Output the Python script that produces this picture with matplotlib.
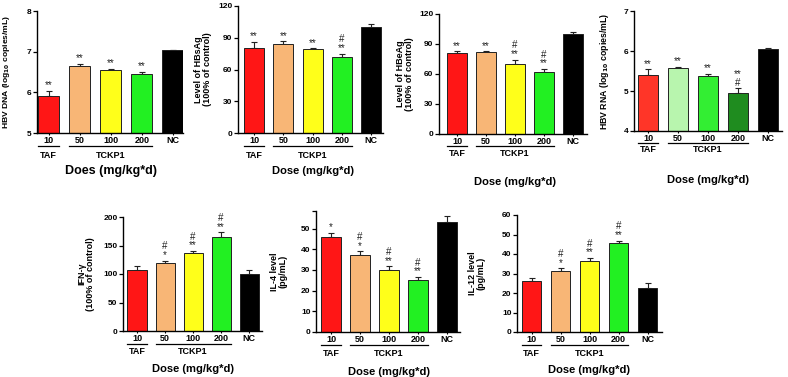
import matplotlib
matplotlib.use("Agg")
import matplotlib.pyplot as plt
import matplotlib.transforms as mtransforms

plt.rcParams['font.family'] = ['Liberation Sans', 'DejaVu Sans']
plt.rcParams['font.weight'] = 'bold'

W, H = 788, 377

doses = ['10', '50', '100', '200', 'NC']

# top row
dna_vals = [5.92, 6.65, 6.56, 6.46, 7.03]
dna_err = [0.12, 0.05, 0.02, 0.05, 0.02]
dna_marks = ['**', '**', '**', '**', '']

hbsag_vals = [80, 84, 79, 72, 100]
hbsag_err = [6, 2.5, 1, 3, 3]
hbsag_marks = ['**', '**', '**', '#\n**', '']

hbeag_vals = [81, 82, 70.5, 62, 100]
hbeag_err = [1.8, 0.6, 4, 3, 2]
hbeag_marks = ['**', '**', '#\n**', '#\n**', '']

rna_vals = [5.41, 5.58, 5.37, 4.95, 6.04]
rna_err = [0.13, 0.02, 0.06, 0.12, 0.03]
rna_marks = ['**', '**', '**', '**\n#', '']

# bottom row
ifn_vals = [107, 119, 136, 165, 100]
ifn_err = [7, 4.5, 4.5, 8, 7]
ifn_marks = ['', '#\n*', '#\n**', '#\n**', '']

il4_vals = [46, 37, 30, 25.3, 53.3]
il4_err = [2, 2, 1.8, 1.3, 2.6]
il4_marks = ['*', '#\n*', '#\n**', '#\n**', '']

il12_vals = [26, 31.2, 36.5, 45.5, 22.8]
il12_err = [1.8, 1.5, 1.5, 1.3, 2.2]
il12_marks = ['', '#\n*', '#\n**', '#\n**', '']

main_colors = ['#ff1616', '#f8b676', '#ffff1a', '#22f022', '#000000']
rna_colors = ['#ff3528', '#b8f5ae', '#33ee33', '#1f8c1f', '#000000']

fig = plt.figure(figsize=(W / 100, H / 100), dpi=100)


def panel(box, xlim, ylim, yticks, vals, errs, colors, marks, ylabel, ylab_x,
          lines_y, xlabel, xlab_y, xlab_size=8, ytop_tick=None, ylab_size=6.5):
    l, t, r, b = box
    hpx = b - t
    ax = fig.add_axes([l / W, 1 - b / H, (r - l) / W, hpx / H])
    x = range(len(vals))
    bw = 0.68
    ax.bar(x, vals, width=bw, color=colors, edgecolor='#222222', linewidth=0.7, zorder=2)
    ax.errorbar(x, vals, yerr=[[0] * len(errs), errs], fmt='none', ecolor='#222222',
                elinewidth=0.8, capsize=2.5, capthick=0.8, zorder=1)
    span = ylim[1] - ylim[0]
    for i, m in enumerate(marks):
        if m:
            ax.text(i, vals[i] + errs[i] + span * 0.005, m, ha='center', va='bottom',
                    fontsize=7, fontweight='normal', linespacing=0.85, color='#222222')
    ax.set_xlim(*xlim)
    ax.set_ylim(*ylim)
    ticks = list(yticks)
    labels = [str(v) for v in yticks]
    if ytop_tick is not None:
        ticks.append(ytop_tick)
        labels.append('')
    ax.set_yticks(ticks)
    ax.set_yticklabels(labels, fontsize=6, fontweight='bold')
    ax.set_xticks(list(x))
    ax.set_xticklabels(doses, fontsize=6.5, fontweight='bold')
    ax.tick_params(axis='x', length=1.5, width=0.8, pad=0.6)
    ax.tick_params(axis='y', length=3, width=0.9, pad=1)
    for s in ['top', 'right']:
        ax.spines[s].set_visible(False)
    for s in ['left', 'bottom']:
        ax.spines[s].set_linewidth(1.0)
    ax.set_ylabel(ylabel, fontsize=ylab_size, fontweight='bold', linespacing=1.0)
    ax.yaxis.set_label_coords((ylab_x - l) / (r - l), 0.5)

    # group lines and labels under the axis
    tr = mtransforms.blended_transform_factory(ax.transData, ax.transAxes)
    ly, gy = lines_y
    fy = -(ly - b) / hpx
    fg = -(gy - b) / hpx
    ax.plot([-bw / 2, bw / 2], [fy, fy], color='black', lw=0.9, transform=tr, clip_on=False)
    ax.plot([1 - bw / 2, 3 + bw / 2], [fy, fy], color='black', lw=0.9, transform=tr, clip_on=False)
    ax.text(0, fg, 'TAF', ha='center', va='center', fontsize=6.5, transform=tr)
    ax.text(2, fg, 'TCKP1', ha='center', va='center', fontsize=6.5, transform=tr)
    ax.text(2, -(xlab_y - b) / hpx, xlabel, ha='center', va='center',
            fontsize=xlab_size, transform=tr)
    return ax


panel((37, 11, 183, 133), (-0.38, 4.33), (5, 8), [5, 6, 7, 8],
      dna_vals, dna_err, main_colors, dna_marks,
      'HBV DNA (log$_{\\mathbf{10}}$ copies/mL)', 12.5, (146, 155),
      'Does (mg/kg*d)', 171, xlab_size=9, ylab_size=6.1)

panel((238, 6, 383, 133), (-0.55, 4.4), (0, 120), [0, 30, 60, 90, 120],
      hbsag_vals, hbsag_err, main_colors, hbsag_marks,
      'Level of HBsAg\n(100% of control)', 212, (146, 155),
      'Dose (mg/kg*d)', 171)

panel((439, 14, 587, 134), (-0.62, 4.48), (0, 120), [0, 30, 60, 90, 120],
      hbeag_vals, hbeag_err, main_colors, hbeag_marks,
      'Level of HBeAg\n(100% of control)', 414, (146, 153),
      'Dose (mg/kg*d)', 182)

panel((634, 11, 782, 131), (-0.47, 4.47), (4, 7), [4, 5, 6, 7],
      rna_vals, rna_err, rna_colors, rna_marks,
      'HBV RNA (log$_{\\mathbf{10}}$ copies/mL)', 611, (143, 150),
      'Dose (mg/kg*d)', 180, ylab_size=6.3)

panel((123, 217, 262, 331), (-0.5, 4.46), (0, 200), [0, 50, 100, 150, 200],
      ifn_vals, ifn_err, main_colors, ifn_marks,
      'IFN-γ\n(100% of control)', 95, (344, 352),
      'Dose (mg/kg*d)', 369)

panel((316, 211, 460, 332), (-0.52, 4.45), (0, 58.5), [0, 10, 20, 30, 40, 50],
      il4_vals, il4_err, main_colors, il4_marks,
      'IL-4 level\n(pg/mL)', 288, (345, 353),
      'Dose (mg/kg*d)', 372, ytop_tick=58.5)

panel((517, 215, 662, 332), (-0.5, 4.5), (0, 60), [0, 10, 20, 30, 40, 50, 60],
      il12_vals, il12_err, main_colors, il12_marks,
      'IL-12 level\n(pg/mL)', 486, (345, 353),
      'Dose (mg/kg*d)', 370)

fig.savefig('out.png', dpi=100)
